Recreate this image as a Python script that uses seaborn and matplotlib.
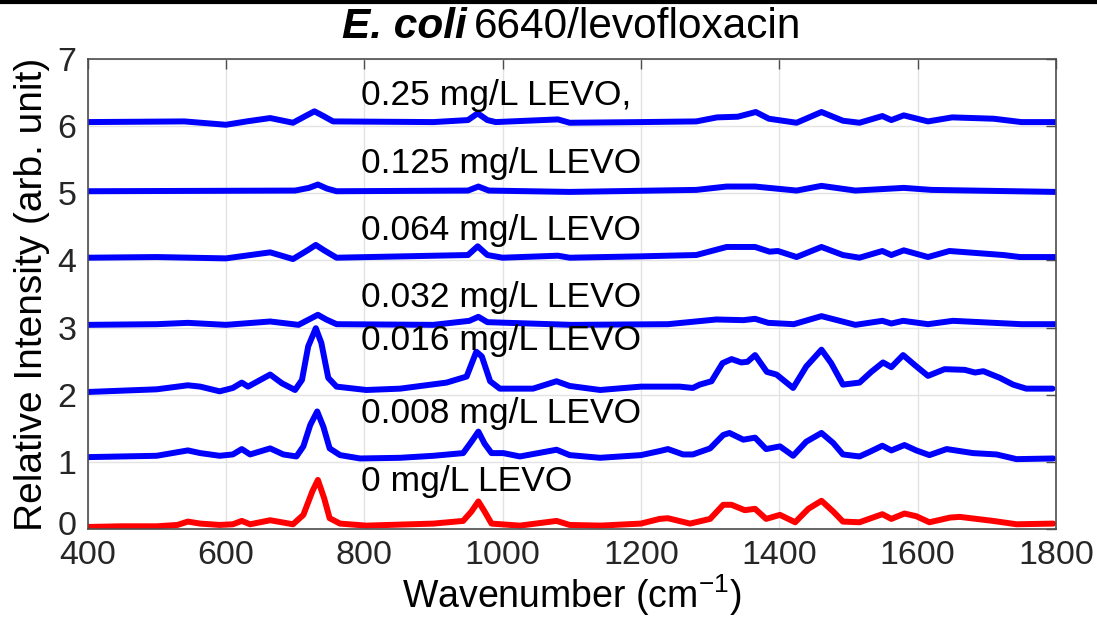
# plot.py
# Offset Raman spectra, E. coli 6640 with levofloxacin

import numpy as np
import pandas as pd
import seaborn as sns
import matplotlib.pyplot as plt
import matplotlib.transforms as mtrans

# ----- series values (wavenumber in cm-1, intensity already offset) -----
wn_0 = [400, 450, 500, 530, 545, 563, 591, 610, 623, 635, 664, 697, 712, 725, 733, 742, 750,
        765, 803, 900, 943, 955, 965, 974, 984, 1025, 1078, 1097, 1141, 1200, 1227, 1239,
        1271, 1300, 1319, 1331, 1350, 1365, 1381, 1401, 1423, 1442, 1461, 1478, 1492, 1516,
        1549, 1562, 1581, 1598, 1617, 1647, 1661, 1709, 1743, 1796]
int_0 = [0.03, 0.04, 0.04, 0.06, 0.11, 0.08, 0.06, 0.07, 0.12, 0.07, 0.13, 0.07, 0.21, 0.56,
         0.73, 0.46, 0.16, 0.08, 0.05, 0.08, 0.12, 0.26, 0.41, 0.26, 0.08, 0.05, 0.12, 0.06,
         0.05, 0.08, 0.15, 0.16, 0.08, 0.15, 0.36, 0.36, 0.28, 0.30, 0.15, 0.21, 0.10, 0.30,
         0.42, 0.26, 0.11, 0.10, 0.22, 0.15, 0.23, 0.19, 0.10, 0.17, 0.18, 0.12, 0.07, 0.08]

wn_008 = [400, 450, 500, 545, 563, 591, 610, 623, 635, 664, 683, 702, 712, 722, 732, 741, 750,
          765, 794, 852, 900, 943, 955, 965, 974, 984, 1001, 1025, 1078, 1097, 1141, 1200,
          1227, 1239, 1261, 1275, 1300, 1319, 1328, 1348, 1365, 1381, 1401, 1420, 1439, 1461,
          1478, 1492, 1516, 1531, 1549, 1562, 1581, 1598, 1617, 1642, 1680, 1714, 1743, 1796]
int_008 = [1.07, 1.08, 1.09, 1.17, 1.13, 1.09, 1.11, 1.19, 1.11, 1.20, 1.11, 1.08, 1.23, 1.55,
           1.75, 1.52, 1.20, 1.10, 1.05, 1.06, 1.09, 1.13, 1.30, 1.45, 1.27, 1.13, 1.13, 1.08,
           1.18, 1.10, 1.06, 1.10, 1.16, 1.19, 1.11, 1.11, 1.20, 1.40, 1.43, 1.33, 1.36, 1.19,
           1.23, 1.09, 1.30, 1.43, 1.28, 1.11, 1.08, 1.15, 1.24, 1.17, 1.25, 1.17, 1.10, 1.19,
           1.13, 1.11, 1.04, 1.05]

wn_016 = [400, 450, 500, 545, 563, 591, 610, 623, 632, 664, 681, 700, 710, 719, 730, 738, 748,
          760, 803, 852, 919, 948, 962, 970, 982, 996, 1044, 1078, 1097, 1141, 1200, 1256,
          1275, 1285, 1302, 1318, 1331, 1345, 1354, 1365, 1382, 1396, 1420, 1439, 1461, 1475,
          1492, 1516, 1533, 1550, 1562, 1579, 1596, 1615, 1639, 1668, 1683, 1695, 1719, 1738,
          1757, 1795]
int_016 = [2.04, 2.06, 2.08, 2.14, 2.12, 2.05, 2.10, 2.18, 2.12, 2.30, 2.17, 2.07, 2.22, 2.72,
           2.99, 2.77, 2.25, 2.12, 2.07, 2.09, 2.18, 2.27, 2.64, 2.57, 2.20, 2.09, 2.09, 2.20,
           2.13, 2.07, 2.12, 2.12, 2.10, 2.15, 2.20, 2.47, 2.53, 2.48, 2.49, 2.59, 2.34, 2.30,
           2.10, 2.42, 2.67, 2.47, 2.15, 2.18, 2.34, 2.48, 2.41, 2.59, 2.44, 2.28, 2.38, 2.37,
           2.33, 2.35, 2.25, 2.15, 2.09, 2.09]

wn_032 = [400, 500, 545, 600, 664, 705, 720, 733, 745, 760, 900, 952, 965, 978, 1100, 1239,
          1309, 1348, 1365, 1384, 1421, 1461, 1510, 1549, 1562, 1579, 1615, 1651, 1750, 1800]
int_032 = [3.04, 3.05, 3.07, 3.04, 3.09, 3.04, 3.12, 3.19, 3.12, 3.05, 3.04, 3.10, 3.16, 3.08,
           3.04, 3.05, 3.12, 3.11, 3.13, 3.07, 3.05, 3.17, 3.04, 3.10, 3.06, 3.10, 3.05, 3.10,
           3.05, 3.05]

wn_064 = [400, 500, 600, 664, 697, 718, 730, 742, 760, 950, 964, 978, 1000, 1080, 1097, 1198,
          1280, 1324, 1365, 1386, 1398, 1425, 1461, 1492, 1516, 1549, 1562, 1580, 1615, 1646,
          1724, 1748, 1800]
int_064 = [4.04, 4.05, 4.03, 4.12, 4.02, 4.15, 4.23, 4.15, 4.04, 4.08, 4.21, 4.08, 4.04, 4.07,
           4.04, 4.06, 4.08, 4.20, 4.20, 4.13, 4.14, 4.05, 4.20, 4.08, 4.04, 4.14, 4.08, 4.15,
           4.05, 4.14, 4.08, 4.05, 4.05]

wn_125 = [400, 700, 720, 733, 746, 760, 950, 965, 980, 1097, 1280, 1324, 1365, 1425, 1461,
          1510, 1580, 1620, 1800]
int_125 = [5.03, 5.04, 5.08, 5.13, 5.07, 5.03, 5.04, 5.10, 5.04, 5.02, 5.05, 5.10, 5.10, 5.04,
           5.11, 5.04, 5.08, 5.05, 5.02]

wn_25 = [400, 540, 600, 630, 664, 697, 715, 728, 741, 755, 900, 950, 964, 978, 990, 1080, 1097,
         1200, 1280, 1310, 1340, 1366, 1385, 1425, 1461, 1492, 1516, 1549, 1562, 1580, 1615,
         1650, 1710, 1750, 1800]
int_25 = [6.06, 6.07, 6.02, 6.07, 6.12, 6.05, 6.15, 6.22, 6.15, 6.07, 6.06, 6.09, 6.19, 6.09,
          6.06, 6.10, 6.05, 6.06, 6.07, 6.13, 6.14, 6.21, 6.11, 6.05, 6.21, 6.08, 6.05, 6.15,
          6.09, 6.16, 6.07, 6.13, 6.11, 6.06, 6.06]

labels = ["0 mg/L LEVO", "0.008 mg/L LEVO", "0.016 mg/L LEVO", "0.032 mg/L LEVO",
          "0.064 mg/L LEVO", "0.125 mg/L LEVO", "0.25 mg/L LEVO,"]
x_series = [wn_0, wn_008, wn_016, wn_032, wn_064, wn_125, wn_25]
y_series = [int_0, int_008, int_016, int_032, int_064, int_125, int_25]

x_ticks = [400, 600, 800, 1000, 1200, 1400, 1600, 1800]
y_ticks = [0, 1, 2, 3, 4, 5, 6, 7]

# label placement (data coords, left / baseline)
label_x = 795
label_base = [0.56, 1.58, 2.67, 3.31, 4.31, 5.30, 6.32]

df = pd.concat(
    [pd.DataFrame({"wavenumber": xs, "intensity": ys, "sample": lab})
     for xs, ys, lab in zip(x_series, y_series, labels)],
    ignore_index=True,
)
palette = {lab: ("#ff0000" if i == 0 else "#0000ff") for i, lab in enumerate(labels)}

# ----- styling -----
sns.set_style("whitegrid", {"grid.color": "#e3e3e3", "axes.edgecolor": "#262626"})
plt.rcParams["font.family"] = ["Liberation Sans", "DejaVu Sans"]
plt.rcParams["mathtext.fontset"] = "custom"
plt.rcParams["mathtext.rm"] = "Liberation Sans"

fig = plt.figure(figsize=(10.97, 6.26), dpi=100)
ax = fig.add_axes([0.0798, 0.1550, 0.8828, 0.7508])

sns.lineplot(data=df, x="wavenumber", y="intensity", hue="sample", palette=palette,
             estimator=None, linewidth=4.3, legend=False, ax=ax)
for ln in ax.get_lines():
    ln.set_solid_joinstyle("round")
    ln.set_solid_capstyle("round")

for lab, yb in zip(labels, label_base):
    ax.text(label_x, yb, lab, fontsize=25.5, va="baseline", ha="left", color="black")

ax.set_xlim(400, 1800)
ax.set_ylim(0, 7)
ax.set_xticks(x_ticks)
ax.set_yticks(y_ticks)
ax.tick_params(direction="in", length=7, width=1, top=True, right=True,
               labelsize=24.5, colors="#4d4d4d")
ax.tick_params(axis="x", pad=8)
ax.tick_params(axis="y", pad=8)
ax.tick_params(axis="both", labelcolor="#262626")
for sp in ax.spines.values():
    sp.set_linewidth(1.2)
    sp.set_color("#4d4d4d")
ax.grid(True, linewidth=1)

# nudge the bottom y label up a little so it clears the "400" below it
zero_lbl = ax.yaxis.get_major_ticks()[0].label1
zero_lbl.set_transform(zero_lbl.get_transform()
                       + mtrans.ScaledTranslation(0, 4 / 72, fig.dpi_scale_trans))

ax.set_xlabel("Wavenumber (cm$^{-1}$)", fontsize=27, color="black", labelpad=1)
ax.set_ylabel("Relative Intensity (arb. unit)", fontsize=28, color="black", labelpad=5)

# title: bold-italic species name followed by regular text, centred on the axes
fig.canvas.draw()
r = fig.canvas.get_renderer()
t1 = fig.text(0, 0.94, "E. coli", fontsize=30.5, fontweight="bold", fontstyle="italic",
              va="baseline", color="black")
t2 = fig.text(0, 0.94, "6640/levofloxacin", fontsize=30.5, va="baseline", color="black")
w1 = t1.get_window_extent(r).width / fig.bbox.width
w2 = t2.get_window_extent(r).width / fig.bbox.width
gap = 0.006
cx = 0.0798 + 0.8828 / 2
start = cx - (w1 + gap + w2) / 2
t1.set_x(start)
t2.set_x(start + w1 + gap)

# thin frame line along the top edge, as in the source image
fig.add_artist(plt.Line2D([0, 1], [0.997, 0.997], transform=fig.transFigure,
                          color="black", linewidth=3))

fig.savefig("out.png", dpi=100)
